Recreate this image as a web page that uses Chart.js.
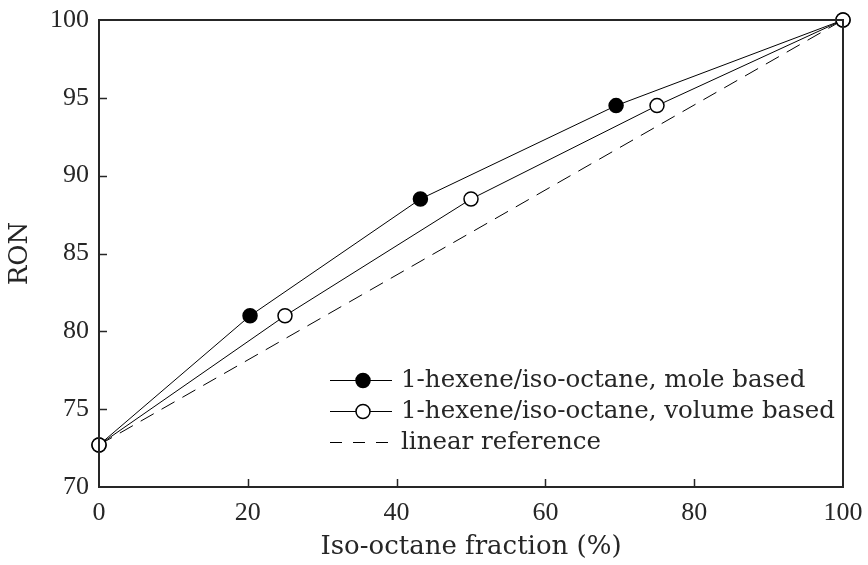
<!DOCTYPE html>
<html>
<head>
<meta charset="utf-8">
<script src="https://cdn.jsdelivr.net/npm/chart.js@4.4.1/dist/chart.umd.min.js"></script>
<style>
html,body{margin:0;padding:0;background:#fff;}
#wrap{width:868px;height:565px;position:relative;}
</style>
</head>
<body>
<div id="wrap"><canvas id="c" width="868" height="565"></canvas></div>
<script>
// ---- data ----
const seriesLabels = ['1-hexene/iso-octane, mole based', '1-hexene/iso-octane, volume based', 'linear reference'];
const moleX = [0, 20.3, 43.2, 69.5, 100];
const moleRON = [72.7, 81.0, 88.5, 94.5, 100];
const volumeX = [0, 25, 50, 75, 100];
const volumeRON = [72.7, 81.0, 88.5, 94.5, 100];
const linearX = [0, 100];
const linearRON = [72.7, 100];
const xTicks = [0, 20, 40, 60, 80, 100];
const yTicks = [70, 75, 80, 85, 90, 95, 100];
const xTitle = 'Iso-octane fraction (%)';
const yTitle = 'RON';

const FONT = 'DejaVu Serif';
const TICKFONT = 'Liberation Serif';
const AXC = '#262626';

function pts(xs, ys) { return xs.map((x, i) => ({x: x, y: ys[i]})); }

const framePlugin = {
  id: 'frame',
  afterDatasetsDraw(chart) {
    const ctx = chart.ctx, a = chart.chartArea;
    const xs = chart.scales.x, ys = chart.scales.y;
    ctx.save();
    ctx.strokeStyle = AXC;
    ctx.lineWidth = 2;
    ctx.setLineDash([]);
    ctx.strokeRect(a.left, a.top, a.right - a.left, a.bottom - a.top);
    ctx.lineWidth = 1.5;
    const tl = 8;
    xTicks.slice(1, -1).forEach(v => {
      const px = Math.round(xs.getPixelForValue(v)) + 0.5;
      ctx.beginPath(); ctx.moveTo(px, a.bottom); ctx.lineTo(px, a.bottom - tl); ctx.stroke();
    });
    yTicks.slice(1, -1).forEach(v => {
      const py = Math.round(ys.getPixelForValue(v)) + 0.5;
      ctx.beginPath(); ctx.moveTo(a.left, py); ctx.lineTo(a.left + tl, py); ctx.stroke();
    });
    ctx.restore();
  },
  afterDraw(chart) {
    // legend
    const ctx = chart.ctx;
    const x0 = 330, x1 = 392, xm = 363, tx = 401;
    const rows = [380, 411, 442];
    ctx.save();
    ctx.font = '24.5px "' + FONT + '"';
    ctx.textBaseline = 'middle';
    [0, 1, 2].forEach((di, r) => {
      const ds = chart.data.datasets[di];
      const y = rows[r];
      ctx.strokeStyle = ds.borderColor;
      ctx.lineWidth = ds.borderWidth;
      if (ds.borderDash) ctx.setLineDash([12, 11]); else ctx.setLineDash([]);
      ctx.beginPath(); ctx.moveTo(x0, y + 0.5); ctx.lineTo(x1, y + 0.5); ctx.stroke();
      ctx.setLineDash([]);
      if (ds.pointRadius > 0) {
        ctx.beginPath();
        ctx.arc(xm, y + 0.5, ds.pointRadius, 0, Math.PI * 2);
        ctx.fillStyle = ds.pointBackgroundColor;
        ctx.fill();
        ctx.lineWidth = ds.pointBorderWidth;
        ctx.strokeStyle = ds.pointBorderColor;
        ctx.stroke();
      }
      ctx.fillStyle = AXC;
      ctx.fillText(ds.label, tx, y + 1);
    });
    ctx.restore();
  }
};

new Chart(document.getElementById('c'), {
  type: 'scatter',
  data: {
    datasets: [
      {
        label: seriesLabels[0],
        data: pts(moleX, moleRON),
        showLine: true,
        borderColor: '#000', borderWidth: 1,
        pointRadius: 7, pointHoverRadius: 7,
        pointBackgroundColor: '#000', pointBorderColor: '#000', pointBorderWidth: 1.5,
        order: 1
      },
      {
        label: seriesLabels[1],
        data: pts(volumeX, volumeRON),
        showLine: true,
        borderColor: '#000', borderWidth: 1,
        pointRadius: 7, pointHoverRadius: 7,
        pointBackgroundColor: '#fff', pointBorderColor: '#000', pointBorderWidth: 1.5,
        order: 0
      },
      {
        label: seriesLabels[2],
        data: pts(linearX, linearRON),
        showLine: true,
        borderColor: '#000', borderWidth: 1,
        borderDash: [15, 9],
        pointRadius: 0, pointHoverRadius: 0,
        order: 2
      }
    ]
  },
  options: {
    responsive: false,
    animation: false,
    events: [],
    clip: false,
    layout: {padding: 0},
    plugins: {legend: {display: false}, tooltip: {enabled: false}},
    scales: {
      x: {
        type: 'linear', min: 0, max: 100,
        afterFit: s => { s.height = 78; s.paddingLeft = 0; s.paddingRight = 25; },
        afterBuildTicks: s => { s.ticks = xTicks.map(v => ({value: v})); },
        grid: {display: false, drawTicks: false},
        border: {display: false},
        ticks: {color: AXC, padding: 11, font: {family: TICKFONT, size: 26}},
        title: {display: true, text: xTitle, color: AXC, font: {family: FONT, size: 26}, padding: {top: 0, bottom: 2}}
      },
      y: {
        type: 'linear', min: 70, max: 100,
        afterFit: s => { s.width = 99; s.paddingTop = 20; s.paddingBottom = 0; },
        afterBuildTicks: s => { s.ticks = yTicks.map(v => ({value: v})); },
        grid: {display: false, drawTicks: false},
        border: {display: false},
        ticks: {color: AXC, padding: 10, font: {family: TICKFONT, size: 26}},
        title: {display: true, text: yTitle, color: AXC, font: {family: FONT, size: 26}, padding: {top: 5, bottom: 0}}
      }
    }
  },
  plugins: [framePlugin]
});
</script>
</body>
</html>
